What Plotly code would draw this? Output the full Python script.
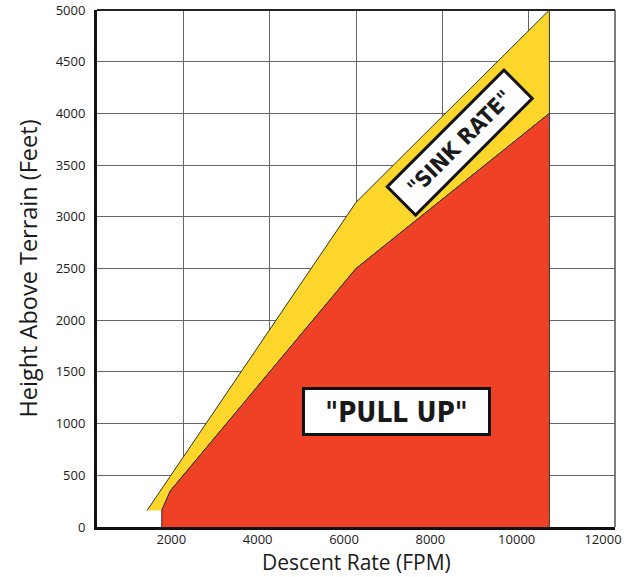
import plotly.graph_objects as go

# Alert envelopes: descent rate (FPM) vs height above terrain (ft)
sink_x = [1160, 6000, 10480, 10480, 6000, 1700, 1500]
sink_y = [160, 3140, 5000, 4000, 2500, 350, 160]
pull_x = [1500, 1500, 1700, 6000, 10480, 10480]
pull_y = [0, 160, 350, 2500, 4000, 0]

x_ticks = [2000, 4000, 6000, 8000, 10000, 12000]
y_ticks = [0, 500, 1000, 1500, 2000, 2500, 3000, 3500, 4000, 4500, 5000]

sink_label = '"SINK RATE"'
pull_label = '"PULL UP"'
sink_pos = (8410, 3715)
pull_pos = (6940, 1115)

x_title = "Descent Rate (FPM)"
y_title = "Height Above Terrain (Feet)"

YELLOW = "#FDD62B"
RED = "#EF4126"
EDGE = "#333333"

fig = go.Figure()
fig.add_trace(go.Scatter(
    x=sink_x, y=sink_y, fill="toself", fillcolor=YELLOW, mode="lines",
    line=dict(color=EDGE, width=1), hoverinfo="skip", showlegend=False,
))
fig.add_trace(go.Scatter(
    x=pull_x, y=pull_y, fill="toself", fillcolor=RED, mode="lines",
    line=dict(color=EDGE, width=1), hoverinfo="skip", showlegend=False,
))

label_font = dict(family="DejaVu Sans Condensed, DejaVu Sans, sans-serif",
                  color="#1a1a1a", weight="bold")
fig.add_annotation(
    x=sink_pos[0], y=sink_pos[1], text=sink_label,
    showarrow=False, textangle=-45, font=dict(size=22, **label_font),
    bgcolor="white", bordercolor="#111111", borderwidth=3,
    width=160, height=35,
)
fig.add_annotation(
    x=pull_pos[0], y=pull_pos[1], text=pull_label,
    showarrow=False, font=dict(size=27.5, **label_font),
    bgcolor="white", bordercolor="#111111", borderwidth=3,
    width=181, height=41,
)

tick_font = dict(family="Open Sans, sans-serif", size=13, color="#1a1a1a")
x_title_font = dict(family="Open Sans, sans-serif", size=21, color="#1a1a1a")
y_title_font = dict(family="Open Sans, sans-serif", size=23.5, color="#1a1a1a")

# x-axis title sits just below the tick labels
fig.add_annotation(
    x=0.5, y=0, xref="paper", yref="paper", yshift=-35,
    xanchor="center", yanchor="middle", text=x_title, showarrow=False,
    font=x_title_font, borderpad=0,
)

# top and right frame edges are lighter than the axis lines
fig.add_shape(type="line", xref="paper", yref="paper", x0=0, x1=1, y0=1, y1=1,
              line=dict(color="#222222", width=2), layer="above")
fig.add_shape(type="line", xref="paper", yref="paper", x0=1, x1=1, y0=0, y1=1,
              line=dict(color="#555555", width=1.5), layer="above")

fig.update_layout(
    width=635, height=577,
    margin=dict(l=97, r=20, t=10, b=50, autoexpand=False),
    paper_bgcolor="white", plot_bgcolor="white",
    xaxis=dict(
        range=[0, 12000], tickvals=x_ticks, ticktext=[str(v) for v in x_ticks],
        showgrid=True, gridcolor="#666666", gridwidth=1.2,
        showline=True, linecolor="#111111", linewidth=3,
        ticks="", tickfont=tick_font, ticklabelshift=-12, ticklabelstandoff=-2,
        zeroline=False, fixedrange=True, automargin=False,
    ),
    yaxis=dict(
        range=[0, 5000], tickvals=y_ticks, ticktext=[str(v) for v in y_ticks],
        showgrid=True, gridcolor="#666666", gridwidth=1.2,
        showline=True, linecolor="#111111", linewidth=3,
        ticks="", tickfont=tick_font, ticklabelstandoff=6,
        title=dict(text=y_title, font=y_title_font, standoff=12),
        zeroline=False, fixedrange=True, automargin=True,
    ),
)

fig.write_html("out.html")
